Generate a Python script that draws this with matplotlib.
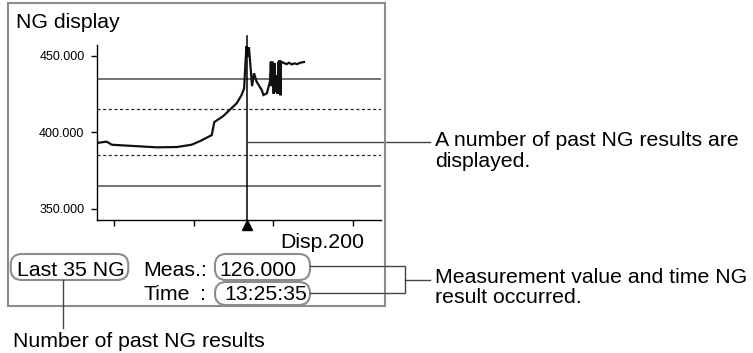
import matplotlib
matplotlib.use("Agg")
import matplotlib.pyplot as plt
from matplotlib.patches import FancyBboxPatch, Rectangle
from matplotlib.lines import Line2D
from matplotlib.transforms import Affine2D

plt.rcParams['font.family'] = ['Liberation Sans', 'DejaVu Sans']

# measurement trend (sample position, value)
xs = [0.5, 3.4, 5.2, 21.0, 28.1, 33.3, 36.3, 40.4, 41.3, 44.5, 47.4, 49.2,
      50.9, 51.8, 52.6, 53.0, 53.5, 54.6, 55.3, 56.2, 58.0, 58.6, 59.8, 60.9,
      61.2, 61.5, 61.8, 62.2, 62.5, 62.9, 63.1, 63.6, 63.9, 64.1, 64.3, 64.6,
      64.8, 65.6, 66.8, 67.6, 68.6, 69.5, 70.5, 71.5, 72.9]
vals = [393.0, 393.7, 391.7, 390.0, 390.2, 391.7, 394.1, 398.0, 406.5, 410.5, 415.7, 418.8,
        424.2, 428.5, 456.0, 449.0, 455.5, 430.0, 438.4, 432.9, 427.5, 424.2, 425.3, 432.9,
        446.0, 430.0, 446.0, 425.0, 445.0, 426.0, 437.0, 425.0, 446.0, 425.0, 447.0, 424.0,
        446.0, 445.3, 444.4, 445.3, 444.2, 444.9, 444.4, 445.3, 445.8]

upper_limits = [435, 365]      # solid
warn_limits = [415, 385]       # dashed
y_ticks = [350, 400, 450]
x_ticks = [6, 34, 62, 90]
cursor_x = 52.7
cursor_y = 393.5

W, H = 753, 353
fig = plt.figure(figsize=(W / 100, H / 100), dpi=100)
T = Affine2D().scale(1 / 100) + fig.dpi_scale_trans


def p(x, y):
    return (x, H - y)


ax = fig.add_axes([97 / W, 1 - 220 / H, (381 - 97) / W, (220 - 45) / H])
ax.set_xlim(0, 100)
ax.set_ylim(342.5, 456.9)

for v in upper_limits:
    ax.axhline(v, color='#4d4d4d', lw=1.1)
for v in warn_limits:
    ax.axhline(v, color='#2a2a2a', lw=0.9, linestyle=(0, (2.5, 2)))

ax.plot(xs, vals, color='#111111', lw=1.6, solid_joinstyle='miter')

ax.spines['top'].set_visible(False)
ax.spines['right'].set_visible(False)
ax.spines['left'].set_linewidth(1.0)
ax.spines['bottom'].set_linewidth(1.0)
ax.set_yticks(y_ticks)
ax.set_yticklabels(['%.3f' % v for v in y_ticks], fontsize=9)
ax.set_xticks(x_ticks)
ax.set_xticklabels([])
ax.tick_params(direction='out', length=4, width=1, pad=5)
ax.patch.set_alpha(0)

# cursor
ax.axvline(cursor_x, ymin=0, ymax=(220 - 36) / 175, color='black', lw=1.1, clip_on=False)
ax.plot([cursor_x], [0], marker='^', color='black', ms=7, clip_on=False,
        transform=ax.get_xaxis_transform() + Affine2D().translate(0, -5))
x_end = ax.transData.inverted().transform(T.transform(p(430, 0)))[0]
ax.plot([cursor_x, x_end], [cursor_y, cursor_y], color='#444444', lw=1.0, clip_on=False)

# frame
fig.add_artist(Rectangle(p(8, 306), 377, 303, transform=T, fill=False,
                         edgecolor='#8c8c8c', lw=1.5))

fs = 15.3
fig.text(*p(16, 28), 'NG display', transform=T, fontsize=fs)
fig.text(*p(364, 247.5), 'Disp.200', transform=T, fontsize=fs, ha='right')
fig.text(*p(16.7, 275.5), 'Last 35 NG', transform=T, fontsize=fs)
fig.text(*p(143, 275.5), 'Meas.:', transform=T, fontsize=fs)
fig.text(*p(219, 275.5), '126.000', transform=T, fontsize=fs)
fig.text(*p(143, 300.5), 'Time', transform=T, fontsize=fs)
fig.text(*p(200, 300.5), ':', transform=T, fontsize=fs)
fig.text(*p(224, 300.5), '13:25:35', transform=T, fontsize=fs)

# rounded boxes
for (x0, y0, x1, y1) in [(10.7, 254, 128.3, 280), (215, 254, 310, 280), (215, 282, 310, 305)]:
    fig.add_artist(FancyBboxPatch(p(x0, y1), x1 - x0, y1 - y0, transform=T,
                                  boxstyle='round,pad=0,rounding_size=11',
                                  fill=False, edgecolor='#8c8c8c', lw=1.5))

lc = '#444444'


def seg(pts):
    xx = [q[0] for q in pts]
    yy = [H - q[1] for q in pts]
    fig.add_artist(Line2D(xx, yy, transform=T, color=lc, lw=1.0))


seg([(310, 266), (405, 266), (405, 292.5), (310, 292.5)])
seg([(405, 279.5), (430, 279.5)])
seg([(63.3, 280), (63.3, 328)])

fig.text(*p(435, 145.7), 'A number of past NG results are', transform=T, fontsize=fs)
fig.text(*p(435, 166.7), 'displayed.', transform=T, fontsize=fs)
fig.text(*p(435, 282.7), 'Measurement value and time NG', transform=T, fontsize=fs)
fig.text(*p(435, 303.3), 'result occurred.', transform=T, fontsize=fs)
fig.text(*p(13.3, 346.7), 'Number of past NG results', transform=T, fontsize=fs)

fig.savefig('out.png', dpi=100)
